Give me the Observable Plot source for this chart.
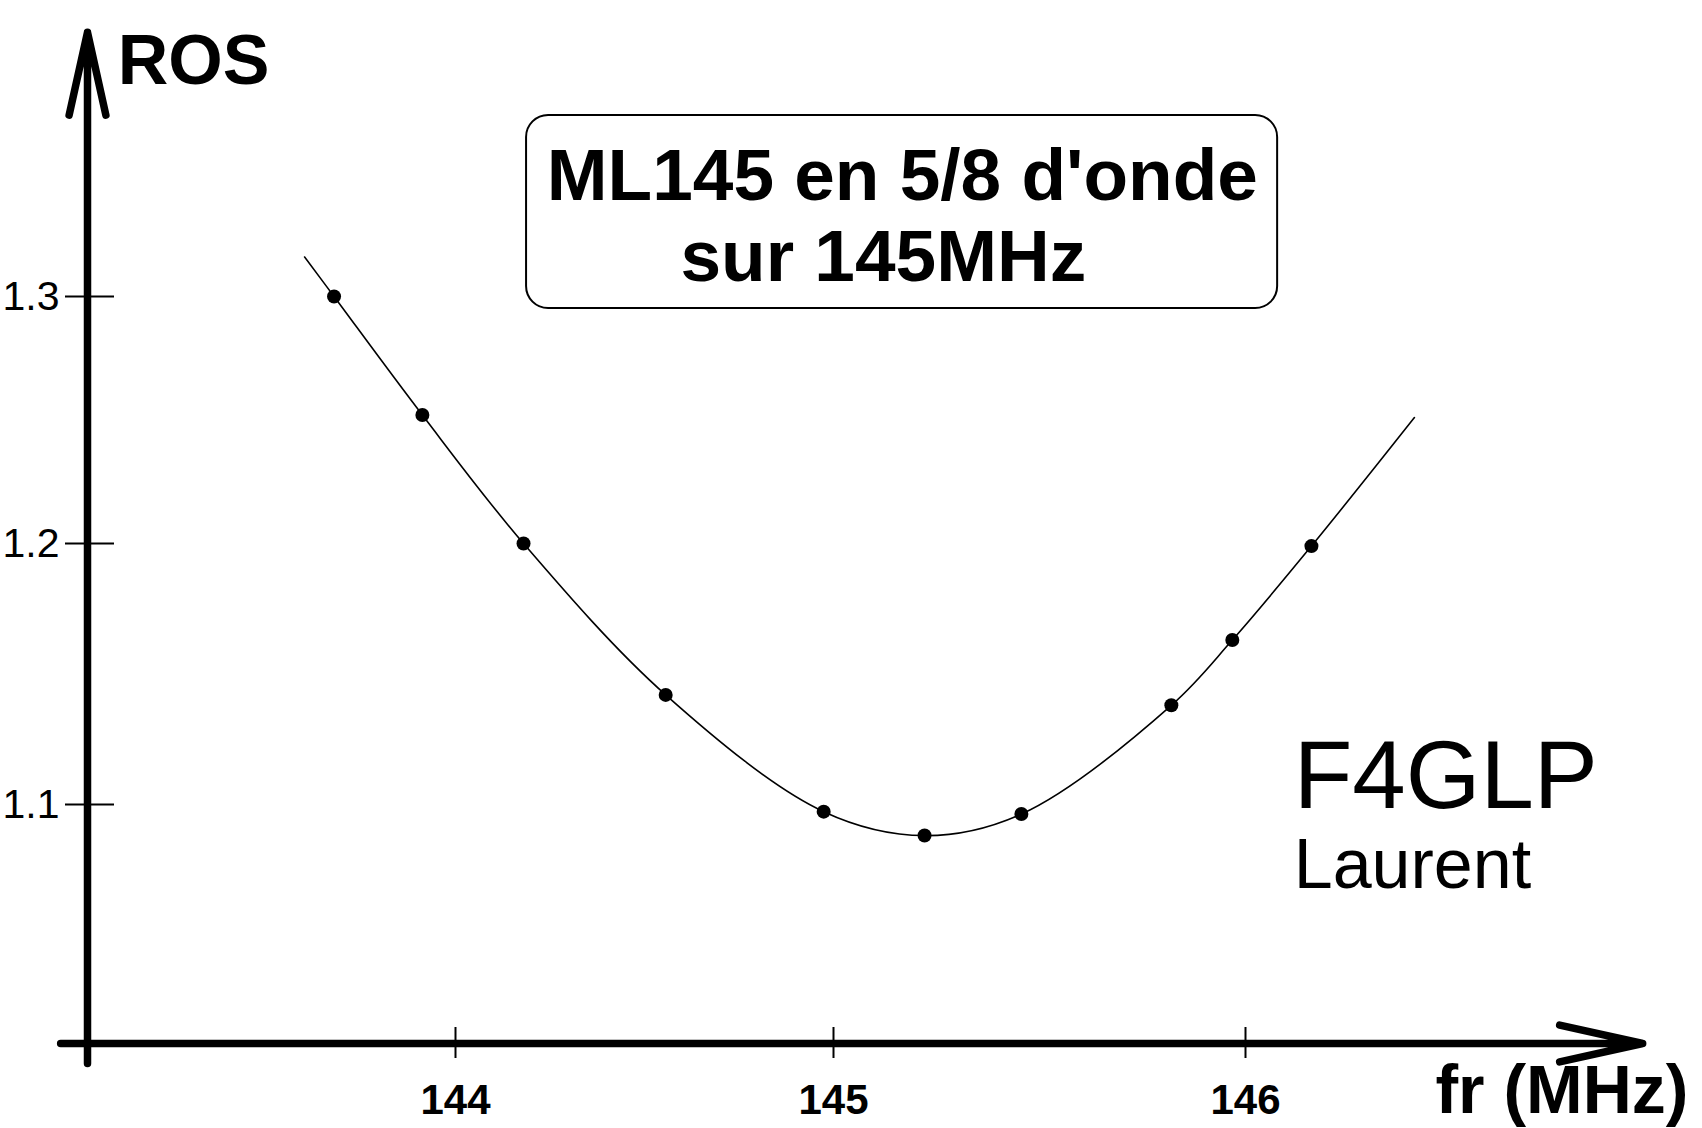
<!DOCTYPE html>
<html>
<head>
<meta charset="utf-8">
<script src="https://cdn.jsdelivr.net/npm/d3@7"></script>
<script src="https://cdn.jsdelivr.net/npm/@observablehq/plot@0.6"></script>
<style>
  html, body { margin: 0; padding: 0; background: #ffffff; }
  #chart svg { display: block; }
</style>
</head>
<body>
<div id="chart"></div>
<script>
// ---- data ----
const freqMHz = [143.67, 143.91, 144.18, 144.556, 144.974, 145.221, 145.456, 145.82, 145.968, 146.16];
const rosValues = [1.300, 1.252, 1.200, 1.142, 1.097, 1.087, 1.096, 1.138, 1.163, 1.199];
// fitted curve extends a little beyond the measured points
const fitStartF = [143.59];
const fitStartR = [1.316];
const fitEndF = [146.41];
const fitEndR = [1.251];

const xTicks = [144, 145, 146];
const yTicks = [1.1, 1.2, 1.3];

// axis extents (data units)
const xAxisExtent = [142.927, 146.964];
const yAxisExtent = [0.9916, 1.407];

// texts
const titleLines = ["ML145 en 5/8 d'onde", "sur 145MHz"];
const authorCall = "F4GLP";
const authorName = "Laurent";
const yTitle = "ROS";
const xTitle = "fr (MHz)";

// ---- scale calibration (the drawing's axes are hand-spaced) ----
const xBreaks = [143, 144, 145, 146];
const xPixels = [87, 455, 833, 1245];
const yBreaks = [1.0, 1.1, 1.2, 1.3];
const yPixels = [1043, 804, 543, 296];

const points = freqMHz.map((f, i) => ({f, r: rosValues[i]}));
const fit = [
  ...fitStartF.map((f, i) => ({f, r: fitStartR[i]})),
  ...points,
  ...fitEndF.map((f, i) => ({f, r: fitEndR[i]}))
];
const axes = [
  {x1: xAxisExtent[0], y1: 1.0, x2: xAxisExtent[1], y2: 1.0},
  {x1: 143, y1: yAxisExtent[0], x2: 143, y2: yAxisExtent[1]}
];
const box = [{x1: 144.188, x2: 146.078, y1: 1.2951, y2: 1.3733}];
const titleData = [
  {x: 145.167, y: 1.3486, text: titleLines[0]},
  {x: 145.121, y: 1.3158, text: titleLines[1]}
];

const FONT = "Arial, 'Liberation Sans', Helvetica, sans-serif";

const chart = Plot.plot({
  width: 1702,
  height: 1128,
  marginLeft: 114,
  marginBottom: 101,
  marginTop: 20,
  marginRight: 20,
  style: {background: "#ffffff", color: "#000000", fontFamily: FONT, overflow: "visible"},
  x: {type: "linear", domain: xBreaks, range: xPixels, label: null},
  y: {type: "linear", domain: yBreaks, range: yPixels, label: null},
  marks: [
    Plot.axisY({
      anchor: "left", ticks: yTicks, tickSize: 49, tickPadding: 6,
      tickFormat: d => d.toFixed(1), fontSize: 41, fontFamily: FONT, strokeWidth: 2, label: null
    }),
    Plot.axisX({
      anchor: "bottom", ticks: xTicks, tickSize: 31, tickPadding: 26,
      tickFormat: d => String(d), fontSize: 42, fontWeight: "bold",
      fontFamily: FONT,
      strokeWidth: 2, label: null
    }),
    Plot.arrow(axes, {
      x1: "x1", y1: "y1", x2: "x2", y2: "y2",
      stroke: "black", strokeWidth: 7.5, headLength: 17, headAngle: 25
    }),
    Plot.line(fit, {x: "f", y: "r", curve: "catmull-rom", stroke: "black", strokeWidth: 1.6}),
    Plot.dot(points, {x: "f", y: "r", r: 7, fill: "black", stroke: "none"}),
    Plot.rect(box, {x1: "x1", x2: "x2", y1: "y1", y2: "y2", rx: 22, fill: "white", stroke: "black", strokeWidth: 2}),
    Plot.text(titleData, {x: "x", y: "y", text: "text", fontSize: 73, fontWeight: "bold", textAnchor: "middle", fill: "black"}),
    Plot.text([yTitle], {x: [143.082], y: [1.3951], text: d => d, fontSize: 70, fontWeight: "bold", textAnchor: "start", fill: "black"}),
    Plot.text([xTitle], {x: [146.461], y: [0.980], text: d => d, fontSize: 68, fontWeight: "bold", textAnchor: "start", fill: "black"}),
    Plot.text([authorCall], {x: [146.117], y: [1.1103], text: d => d, fontSize: 96, textAnchor: "start", fill: "black"}),
    Plot.text([authorName], {x: [146.117], y: [1.0745], text: d => d, fontSize: 70, textAnchor: "start", fill: "black"})
  ]
});
document.getElementById("chart").appendChild(chart);
</script>
</body>
</html>
